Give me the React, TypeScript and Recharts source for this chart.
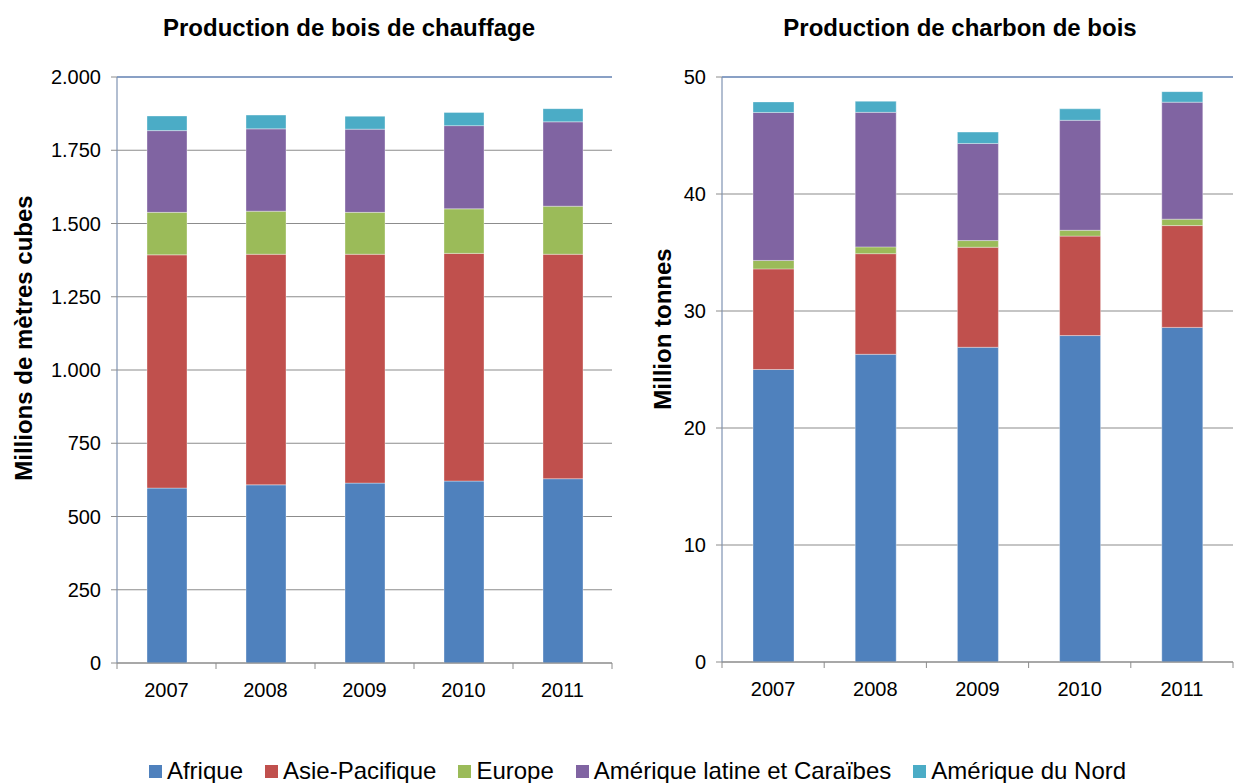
import React from 'react';
import { BarChart, Bar, XAxis, YAxis, CartesianGrid, ReferenceLine } from 'recharts';

const years = ['2007', '2008', '2009', '2010', '2011'];

const boisAfrique = [597, 608, 614, 621, 629];
const boisAsie = [796, 787, 781, 777, 766];
const boisEurope = [145, 147, 143, 152, 164];
const boisLatAm = [279, 281, 284, 284, 288];
const boisNordAm = [50, 47, 44, 45, 45];

const charbonAfrique = [25.0, 26.3, 26.9, 27.9, 28.6];
const charbonAsie = [8.6, 8.6, 8.55, 8.5, 8.7];
const charbonEurope = [0.72, 0.58, 0.57, 0.5, 0.55];
const charbonLatAm = [12.65, 11.5, 8.3, 9.4, 10.0];
const charbonNordAm = [0.9, 0.95, 0.97, 0.98, 0.9];

const boisTicks = [0, 250, 500, 750, 1000, 1250, 1500, 1750, 2000];
const charbonTicks = [0, 10, 20, 30, 40, 50];

const seriesNames = ['Afrique', 'Asie-Pacifique', 'Europe', 'Amérique latine et Caraïbes', 'Amérique du Nord'];
const seriesKeys = ['afrique', 'asie', 'europe', 'latam', 'nordam'];
const seriesColors = ['#4F81BD', '#C0504D', '#9BBB59', '#8064A2', '#4BACC6'];

const titleBois = 'Production de bois de chauffage';
const titleCharbon = 'Production de charbon de bois';
const labelBois = 'Millions de mètres cubes';
const labelCharbon = 'Million tonnes';

const boisData = years.map((y, i) => ({
  year: y,
  afrique: boisAfrique[i],
  asie: boisAsie[i],
  europe: boisEurope[i],
  latam: boisLatAm[i],
  nordam: boisNordAm[i],
}));

const charbonData = years.map((y, i) => ({
  year: y,
  afrique: charbonAfrique[i],
  asie: charbonAsie[i],
  europe: charbonEurope[i],
  latam: charbonLatAm[i],
  nordam: charbonNordAm[i],
}));

const FONT = '"Liberation Sans", Arial, Helvetica, sans-serif';
const GRID = '#8c8c8c';
const AXIS = '#7f93b2';
const BORDER = '#7593c4';

const fmtDot = (v: number) => v.toString().replace(/\B(?=(\d{3})+(?!\d))/g, '.');

const makeTick = (band: number, axisY: number, count: number) => (props: any) => {
  const { x, payload, index } = props;
  return (
    <g>
      <line x1={x - band / 2} x2={x - band / 2} y1={axisY} y2={axisY + 6} stroke={GRID} />
      {index === count - 1 && (
        <line x1={x + band / 2} x2={x + band / 2} y1={axisY} y2={axisY + 6} stroke={GRID} />
      )}
      <text x={x} y={axisY + 34} textAnchor="middle" fontSize={20} fontFamily={FONT} fill="#000">
        {payload.value}
      </text>
    </g>
  );
};

type PanelProps = {
  data: any[];
  left: number;
  width: number;
  yWidth: number;
  marginRight: number;
  top: number;
  bottom: number;
  domainMax: number;
  ticks: number[];
  fmt: (v: number) => string;
  barSize: number;
};

const HEIGHT = 720;

function Panel(p: PanelProps) {
  const plotW = p.width - p.yWidth - p.marginRight;
  const band = plotW / p.data.length;
  const xh = HEIGHT - p.bottom;
  return (
    <div style={{ position: 'absolute', left: p.left, top: 0 }}>
      <BarChart
        width={p.width}
        height={HEIGHT}
        data={p.data}
        margin={{ top: p.top, right: p.marginRight, left: 0, bottom: 0 }}
        barSize={p.barSize}
      >
        <CartesianGrid vertical={false} stroke={GRID} strokeWidth={1.2} />
        <XAxis
          dataKey="year"
          height={xh}
          tickLine={false}
          axisLine={{ stroke: GRID, strokeWidth: 1.2 }}
          tick={makeTick(band, p.bottom, p.data.length)}
          interval={0}
        />
        <YAxis
          width={p.yWidth}
          domain={[0, p.domainMax]}
          ticks={p.ticks}
          tickFormatter={p.fmt}
          tickSize={6}
          tickMargin={10}
          tickLine={{ stroke: GRID }}
          axisLine={{ stroke: AXIS, strokeWidth: 1.2 }}
          tick={{ fontSize: 20, fill: '#000', fontFamily: FONT }}
          allowDataOverflow
        />
        <YAxis
          yAxisId="border"
          orientation="right"
          width={0}
          tick={false}
          tickLine={false}
          axisLine={{ stroke: BORDER, strokeWidth: 1.5 }}
          domain={[0, 1]}
        />
        <ReferenceLine y={p.domainMax} stroke={BORDER} strokeWidth={1.5} ifOverflow="extendDomain" />
        {seriesKeys.map((k, i) => (
          <Bar
            key={k}
            dataKey={k}
            name={seriesNames[i]}
            stackId="s"
            fill={seriesColors[i]}
            stroke="rgba(255,255,255,0.35)"
            strokeWidth={1}
            isAnimationActive={false}
          />
        ))}
      </BarChart>
    </div>
  );
}

export default function App() {
  return (
    <div
      style={{
        position: 'absolute',
        left: 0,
        top: 0,
        width: 1245,
        height: 783,
        background: '#fff',
        fontFamily: FONT,
        overflow: 'hidden',
      }}
    >
      <Panel
        data={boisData}
        left={0}
        width={640}
        yWidth={117}
        marginRight={28}
        top={77}
        bottom={663}
        domainMax={2000}
        ticks={boisTicks}
        fmt={fmtDot}
        barSize={40}
      />
      <Panel
        data={charbonData}
        left={620}
        width={625}
        yWidth={102}
        marginRight={12}
        top={77}
        bottom={662}
        domainMax={50}
        ticks={charbonTicks}
        fmt={(v: number) => String(v)}
        barSize={41}
      />
      <svg
        width={1245}
        height={783}
        style={{ position: 'absolute', left: 0, top: 0, pointerEvents: 'none' }}
      >
        <text x={349} y={36} textAnchor="middle" fontSize={24} fontWeight="bold" fontFamily={FONT} fill="#000">
          {titleBois}
        </text>
        <text x={960} y={36} textAnchor="middle" fontSize={24} fontWeight="bold" fontFamily={FONT} fill="#000">
          {titleCharbon}
        </text>
        <text
          transform="translate(32,338) rotate(-90)"
          textAnchor="middle"
          fontSize={24}
          fontWeight="bold"
          fontFamily={FONT}
          fill="#000"
        >
          {labelBois}
        </text>
        <text
          transform="translate(671,329) rotate(-90)"
          textAnchor="middle"
          fontSize={24}
          fontWeight="bold"
          fontFamily={FONT}
          fill="#000"
        >
          {labelCharbon}
        </text>
      </svg>
      <div
        style={{
          position: 'absolute',
          left: 0,
          width: 1245,
          top: 756,
          display: 'flex',
          justifyContent: 'center',
          paddingLeft: 30,
          boxSizing: 'border-box',
        }}
      >
        {seriesNames.map((n, i) => (
          <div key={n} style={{ display: 'flex', alignItems: 'center', marginRight: i < seriesNames.length - 1 ? 22 : 0 }}>
            <span style={{ display: 'inline-block', width: 13, height: 13, background: seriesColors[i], marginRight: 5 }} />
            <span style={{ fontSize: 24, lineHeight: '30px', color: '#000' }}>{n}</span>
          </div>
        ))}
      </div>
    </div>
  );
}
